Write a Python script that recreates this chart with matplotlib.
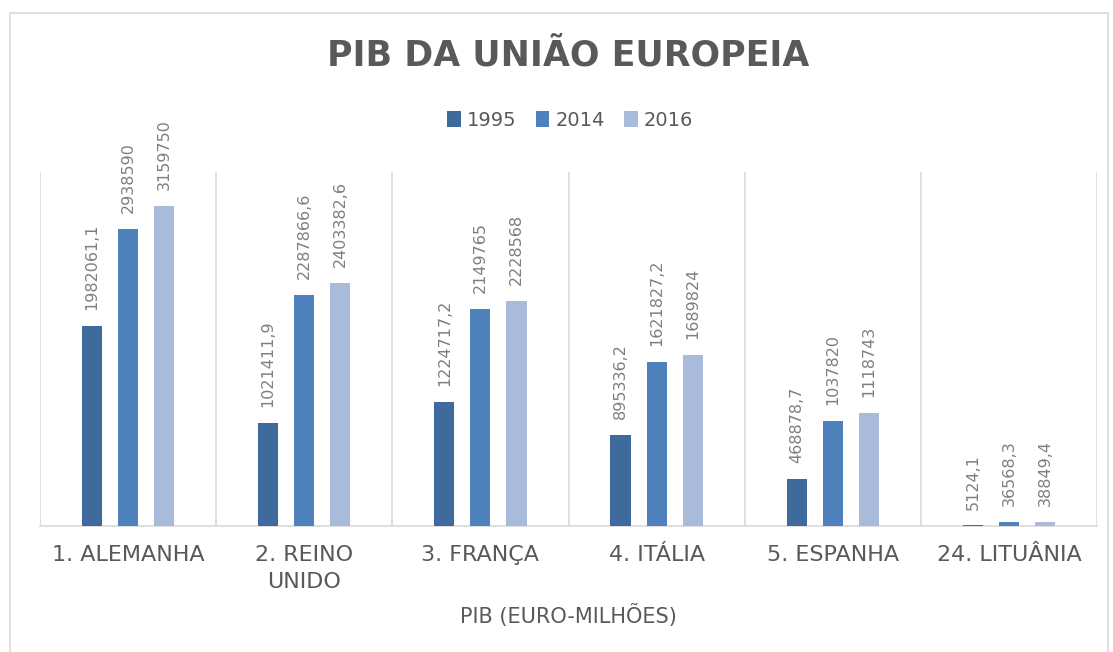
import matplotlib
matplotlib.use("Agg")
import matplotlib.pyplot as plt
import numpy as np
from matplotlib.patches import Rectangle

# data (PIB, euro-milhões)
paises = ["1. ALEMANHA", "2. REINO\nUNIDO", "3. FRANÇA", "4. ITÁLIA",
          "5. ESPANHA", "24. LITUÂNIA"]
anos = ["1995", "2014", "2016"]
pib_1995 = [1982061.1, 1021411.9, 1224717.2, 895336.2, 468878.7, 5124.1]
pib_2014 = [2938590, 2287866.6, 2149765, 1621827.2, 1037820, 36568.3]
pib_2016 = [3159750, 2403382.6, 2228568, 1689824, 1118743, 38849.4]

cores = ["#3f6a9c", "#4f81bd", "#a9badb"]
cinza = "#595959"


def rotulo(v):
    s = ("%.1f" % v).rstrip("0").rstrip(".")
    return s.replace(".", ",")


fig = plt.figure(figsize=(11.13, 6.52), dpi=100)
ax = fig.add_axes([40 / 1113, 126 / 652, 1057 / 1113, 354 / 652])

# outer chart border
fig.patches.append(Rectangle((10 / 1113, -0.05), 1098 / 1113, 1.05 - 13 / 652,
                             transform=fig.transFigure, fill=False,
                             edgecolor="#d9d9d9", linewidth=1.2))

x = np.arange(len(paises))
largura = 0.114
passo = 0.205
series = [pib_1995, pib_2014, pib_2016]
for i, (vals, cor, ano) in enumerate(zip(series, cores, anos)):
    pos = x + (i - 1) * passo
    barras = ax.bar(pos, vals, largura, color=cor, label=ano, zorder=3)
    for b, v in zip(barras, vals):
        ax.annotate(rotulo(v), (b.get_x() + b.get_width() / 2, b.get_height()),
                    xytext=(0, 11.5), textcoords="offset points",
                    ha="center", va="bottom", rotation=90,
                    fontsize=11.5, color="#7f7f7f")

ax.set_xlim(-0.5, len(paises) - 0.5)
ax.set_ylim(0, 3500000)
ax.set_yticks([])
ax.set_xticks(x)
ax.set_xticklabels(paises, fontsize=16, color=cinza, linespacing=1.4)
ax.tick_params(axis="x", length=0, pad=14)
ax.set_xticks(np.arange(len(paises) + 1) - 0.5, minor=True)
ax.tick_params(axis="x", which="minor", length=0)
ax.grid(axis="x", which="minor", color="#d9d9d9", linewidth=1.2, zorder=0)
for s in ["top", "left", "right"]:
    ax.spines[s].set_visible(False)
ax.spines["bottom"].set_color("#d9d9d9")
ax.spines["bottom"].set_linewidth(1.2)

fig.text(568 / 1113, 1 - 56 / 652, "PIB DA UNIÃO EUROPEIA", ha="center",
         va="center", fontsize=25, fontweight="bold", color=cinza)
fig.legend(loc="center", bbox_to_anchor=(570 / 1113, 1 - 120 / 652), ncol=3,
           frameon=False, fontsize=14, labelcolor=cinza, handlelength=0.7,
           handleheight=0.9, handletextpad=0.3, columnspacing=1.0)
fig.text(568 / 1113, 1 - 615 / 652, "PIB (EURO-MILHÕES)", ha="center",
         va="center", fontsize=15, color=cinza)

fig.savefig("out.png", dpi=100)
